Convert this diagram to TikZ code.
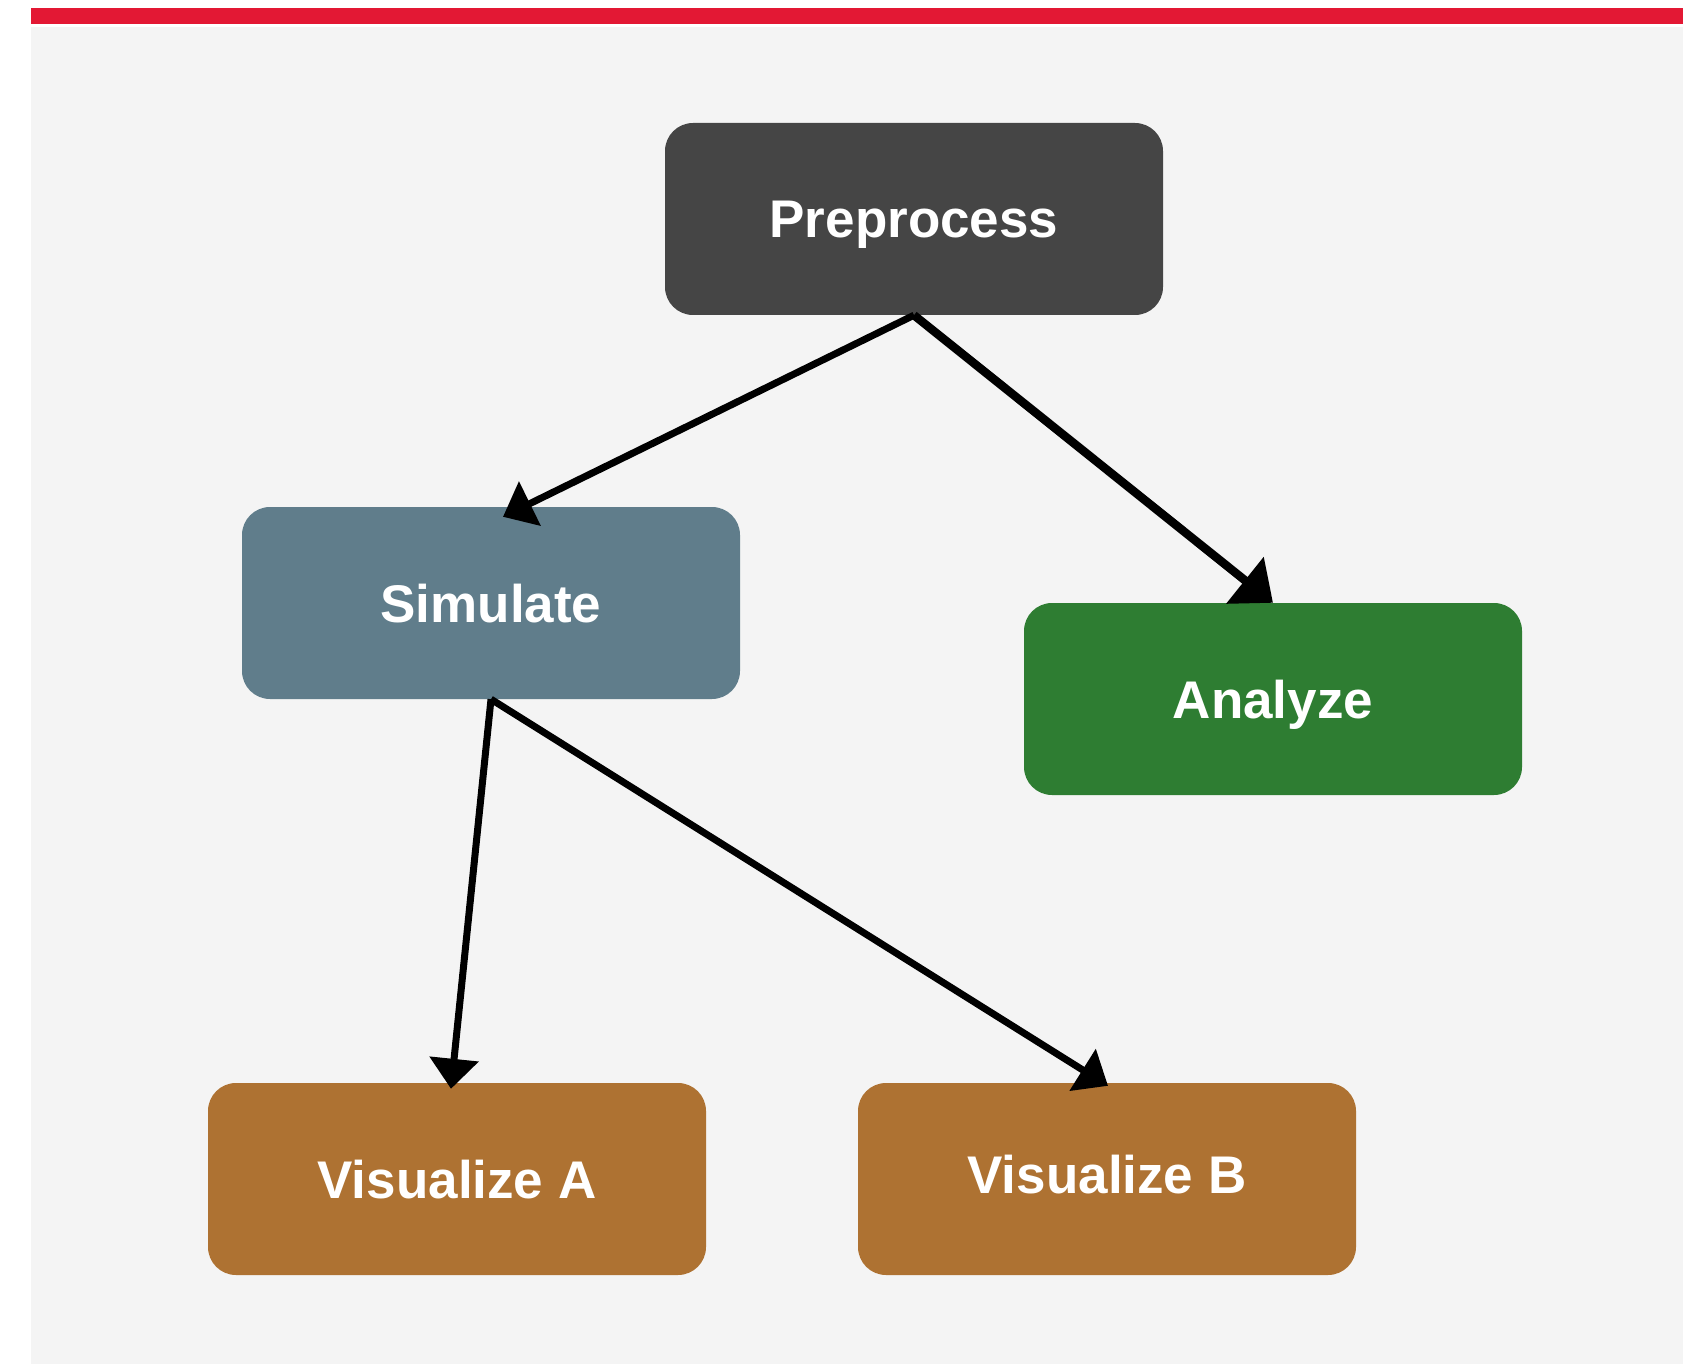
\documentclass[tikz,border=0pt]{standalone}
\usepackage{fontspec}
\setmainfont{Liberation Sans}
\usetikzlibrary{arrows.meta}

\definecolor{barred}{HTML}{E31834}
\definecolor{panel}{HTML}{F4F4F4}
\definecolor{prefill}{HTML}{454545}
\definecolor{simfill}{HTML}{607D8B}
\definecolor{anafill}{HTML}{2E7D32}
\definecolor{visfill}{HTML}{AE7232}

\tikzstyle{stage}=[rectangle,rounded corners=28pt,minimum width=498pt,minimum height=192pt,inner sep=0pt,text=white,text height=38pt,text depth=0pt,font=\fontsize{53}{60}\selectfont\bfseries]
\tikzstyle{link}=[-{Triangle[length=30pt,width=48pt]},line width=7pt]

\begin{document}
\begin{tikzpicture}[x=1pt,y=-1pt]
	\useasboundingbox (0,0) rectangle (1698,1364);
	\fill[white] (0,0) rectangle (1698,1364);
	\fill[barred] (31,8) rectangle (1683,24);
	\fill[panel] (31,27) rectangle (1683,1364);

	\node (pre)[stage,fill=prefill] at (914,219) {Preprocess};
	\node (sim)[stage,fill=simfill] at (491,603) {Simulate};
	\node (ana)[stage,fill=anafill] at (1273,699) {Analyze};
	\node (visA)[stage,fill=visfill] at (457,1179) {Visualize A};
	\node (visB)[stage,fill=visfill,text depth=10pt] at (1107,1179) {Visualize B};

	\draw[link] (pre.south) -- ([shift={(12,10)}]sim.north);
	\draw[link,line width=8.5pt,-{Triangle[length=36pt,width=58pt]}] (pre.south) -- (ana.north);
	\draw[link] (sim.south) -- ([shift={(-6,6)}]visA.north);
	\draw[link] (sim.south) -- ([shift={(1,3)}]visB.north);
\end{tikzpicture}
\end{document}
